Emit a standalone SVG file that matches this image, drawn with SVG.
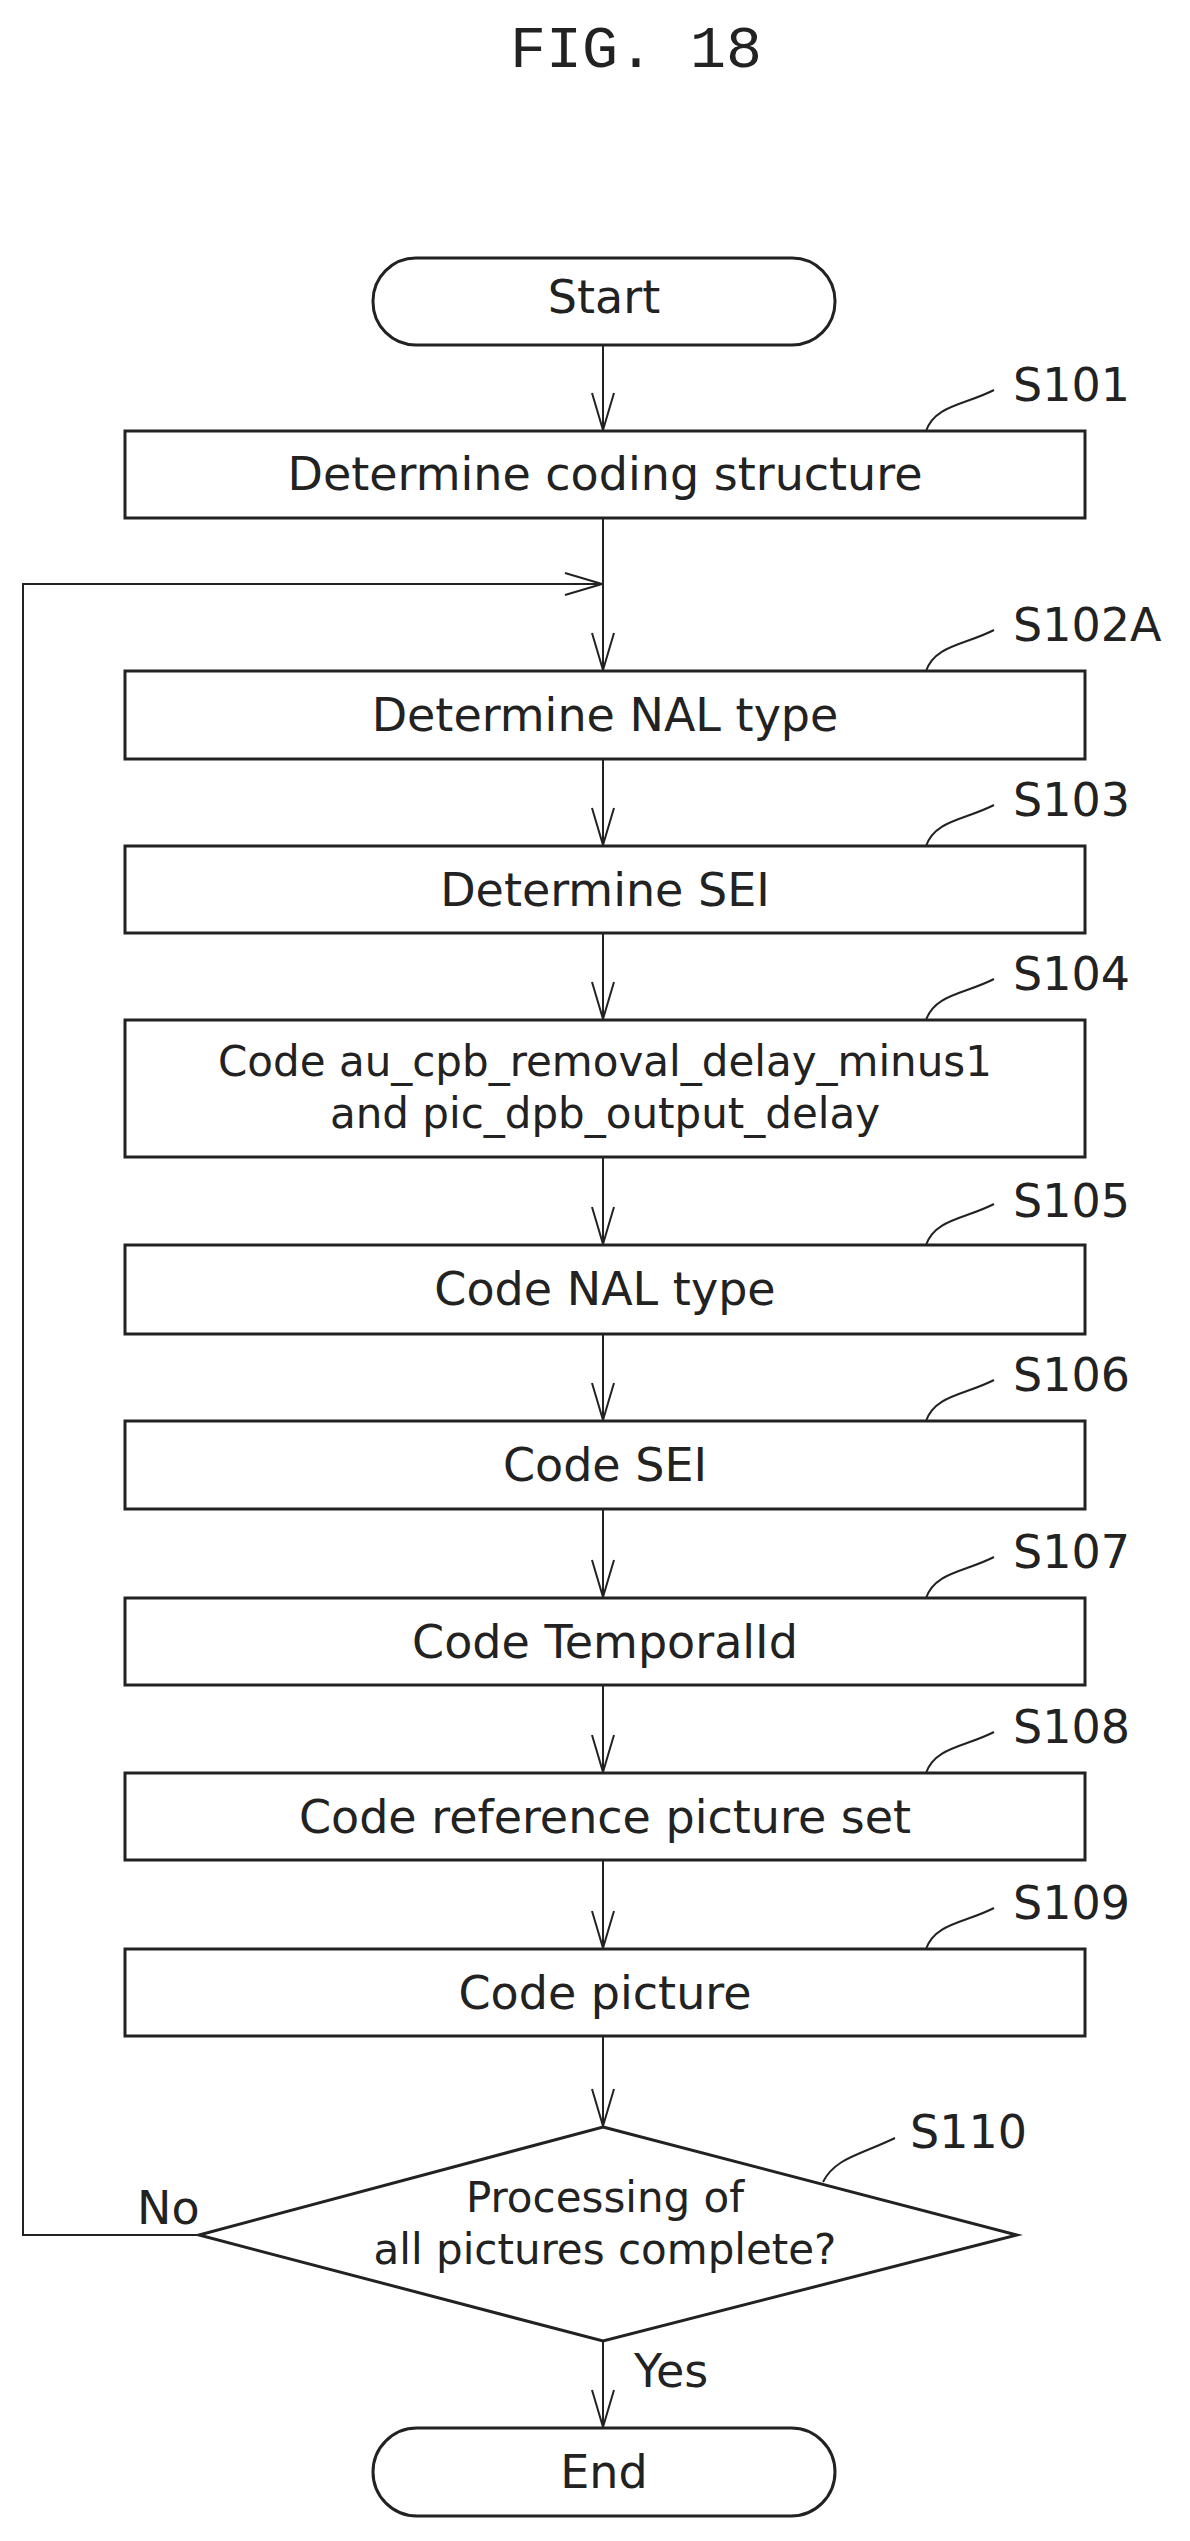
<svg xmlns="http://www.w3.org/2000/svg" width="1190" height="2541" viewBox="0 0 1190 2541">
<style>
text{font-family:"DejaVu Sans","Liberation Sans",sans-serif;fill:#222;font-size:46px}
.t{text-anchor:middle}
.s{font-size:42px}
.b{fill:#fff;stroke:#222;stroke-width:3}
.c{fill:none;stroke:#222;stroke-width:2}
.lbl{font-size:46px}
</style>
<defs>
<marker id="a" markerWidth="40" markerHeight="24" refX="38" refY="12" orient="auto" markerUnits="userSpaceOnUse" viewBox="0 0 40 24">
<path d="M1,1 L38,12 L1,23" fill="none" stroke="#222" stroke-width="2"/>
</marker>
</defs>
<text class="t" x="636" y="67" style="font-size:60px;font-family:'Liberation Mono','DejaVu Sans Mono',monospace">FIG. 18</text>
<g id="connectors">
<path class="c" d="M603,345 V430" marker-end="url(#a)"/>
<path class="c" d="M603,518 V670" marker-end="url(#a)"/>
<path class="c" d="M199,2235 H23 V584 H602" marker-end="url(#a)"/>
<path class="c" d="M603,759 V845" marker-end="url(#a)"/>
<path class="c" d="M603,933 V1019" marker-end="url(#a)"/>
<path class="c" d="M603,1157 V1244" marker-end="url(#a)"/>
<path class="c" d="M603,1334 V1420" marker-end="url(#a)"/>
<path class="c" d="M603,1509 V1597" marker-end="url(#a)"/>
<path class="c" d="M603,1685 V1772" marker-end="url(#a)"/>
<path class="c" d="M603,1860 V1948" marker-end="url(#a)"/>
<path class="c" d="M603,2036 V2126" marker-end="url(#a)"/>
<path class="c" d="M603,2341 V2427" marker-end="url(#a)"/>
<text x="137" y="2224">No</text>
<text x="634" y="2387">Yes</text>
</g>
<g id="start"><rect class="b" x="373" y="258" width="462" height="87" rx="43"/><text class="t" x="604" y="313">Start</text></g>
<g id="S101"><rect class="b" x="125" y="431" width="960" height="87"/><text class="t" x="605" y="490">Determine coding structure</text>
<path class="c" d="M926,431 C935,405 965,405 994,390"/><text class="lbl" x="1013" y="401">S101</text></g>
<g id="S102A"><rect class="b" x="125" y="671" width="960" height="88"/><text class="t" x="605" y="731">Determine NAL type</text>
<path class="c" d="M926,671 C935,645 965,645 994,630"/><text class="lbl" x="1013" y="641">S102A</text></g>
<g id="S103"><rect class="b" x="125" y="846" width="960" height="87"/><text class="t" x="605" y="906">Determine SEI</text>
<path class="c" d="M926,846 C935,820 965,820 994,805"/><text class="lbl" x="1013" y="816">S103</text></g>
<g id="S104"><rect class="b" x="125" y="1020" width="960" height="137"/><text class="t s" x="605" y="1076">Code au_cpb_removal_delay_minus1</text><text class="t s" x="605" y="1128">and pic_dpb_output_delay</text>
<path class="c" d="M926,1020 C935,994 965,994 994,979"/><text class="lbl" x="1013" y="990">S104</text></g>
<g id="S105"><rect class="b" x="125" y="1245" width="960" height="89"/><text class="t" x="605" y="1305">Code NAL type</text>
<path class="c" d="M926,1245 C935,1219 965,1219 994,1204"/><text class="lbl" x="1013" y="1217">S105</text></g>
<g id="S106"><rect class="b" x="125" y="1421" width="960" height="88"/><text class="t" x="605" y="1481">Code SEI</text>
<path class="c" d="M926,1421 C935,1395 965,1395 994,1380"/><text class="lbl" x="1013" y="1391">S106</text></g>
<g id="S107"><rect class="b" x="125" y="1598" width="960" height="87"/><text class="t" x="605" y="1658">Code TemporalId</text>
<path class="c" d="M926,1598 C935,1572 965,1572 994,1557"/><text class="lbl" x="1013" y="1568">S107</text></g>
<g id="S108"><rect class="b" x="125" y="1773" width="960" height="87"/><text class="t" x="605" y="1833">Code reference picture set</text>
<path class="c" d="M926,1773 C935,1747 965,1747 994,1732"/><text class="lbl" x="1013" y="1743">S108</text></g>
<g id="S109"><rect class="b" x="125" y="1949" width="960" height="87"/><text class="t" x="605" y="2009">Code picture</text>
<path class="c" d="M926,1949 C935,1923 965,1923 994,1908"/><text class="lbl" x="1013" y="1919">S109</text></g>
<g id="S110"><polygon class="b" points="603,2127 1017,2235 603,2341 199,2235"/><text class="t s" x="605" y="2212">Processing of</text><text class="t s" x="605" y="2264">all pictures complete?</text>
<path class="c" d="M823,2182 C835,2158 860,2155 895,2138"/><text class="lbl" x="910" y="2148">S110</text></g>
<g id="end"><rect class="b" x="373" y="2428" width="462" height="88" rx="44"/><text class="t" x="604" y="2488">End</text></g>
</svg>
